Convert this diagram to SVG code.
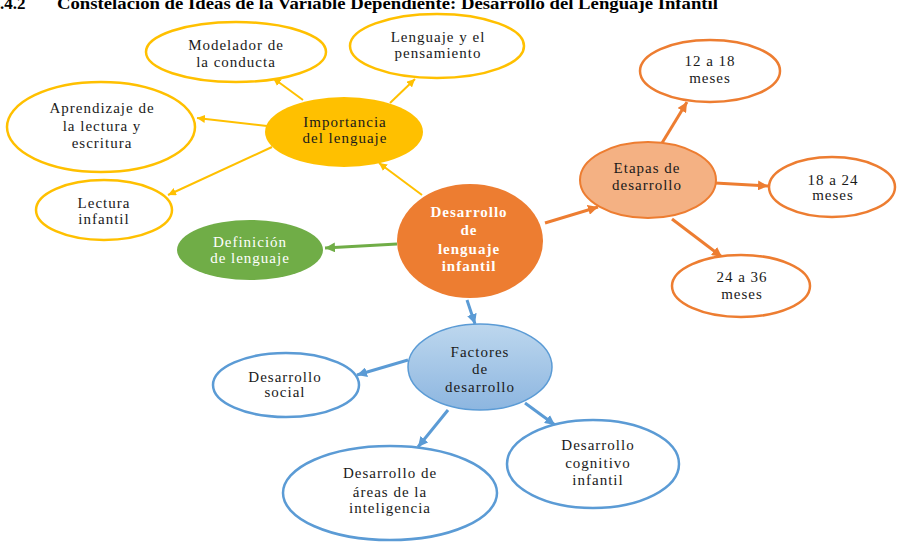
<svg xmlns="http://www.w3.org/2000/svg" width="900" height="548" viewBox="0 0 900 548">
<defs>
<style>
.t{font-family:"Liberation Serif","Times New Roman",serif;font-size:15px;fill:#1a1a1a;text-anchor:middle;letter-spacing:1px}
.w{fill:#fff}
.b{font-weight:bold}
.title{font-family:"Liberation Serif","Times New Roman",serif;font-size:17px;font-weight:bold;fill:#000}
.oy{fill:#fff;stroke:#FFC000;stroke-width:2.5}
.oo{fill:#fff;stroke:#ED7D31;stroke-width:2.5}
.ob{fill:#fff;stroke:#5B9BD5;stroke-width:2.5}
.cy{stroke:#FFC000;stroke-width:2;fill:none;marker-end:url(#ay)}
.co{stroke:#ED7D31;stroke-width:3;fill:none;marker-end:url(#ao)}
.cb{stroke:#5B9BD5;stroke-width:3;fill:none;marker-end:url(#ab)}
.cg{stroke:#70AD47;stroke-width:3;fill:none;marker-end:url(#ag)}
</style>
<marker id="ay" viewBox="0 0 10 10" refX="10" refY="5" markerUnits="userSpaceOnUse" markerWidth="8" markerHeight="8" orient="auto"><path d="M0,0 L10,5 L0,10 z" fill="#FFC000"/></marker>
<marker id="ao" viewBox="0 0 10 10" refX="10" refY="5" markerUnits="userSpaceOnUse" markerWidth="10" markerHeight="10" orient="auto"><path d="M0,0 L10,5 L0,10 z" fill="#ED7D31"/></marker>
<marker id="ab" viewBox="0 0 10 10" refX="10" refY="5" markerUnits="userSpaceOnUse" markerWidth="10" markerHeight="10" orient="auto"><path d="M0,0 L10,5 L0,10 z" fill="#5B9BD5"/></marker>
<marker id="ag" viewBox="0 0 10 10" refX="10" refY="5" markerUnits="userSpaceOnUse" markerWidth="10" markerHeight="10" orient="auto"><path d="M0,0 L10,5 L0,10 z" fill="#70AD47"/></marker>
<linearGradient id="gb" x1="0" y1="0" x2="0" y2="1"><stop offset="0" stop-color="#BDD7EE"/><stop offset="1" stop-color="#8DB6E0"/></linearGradient>
</defs>
<rect width="900" height="548" fill="#fff"/>
<text class="title" x="-8.5" y="9">4.4.2</text>
<text class="title" x="57" y="9" textLength="661" lengthAdjust="spacingAndGlyphs">Constelación de Ideas de la Variable Dependiente: Desarrollo del Lenguaje Infantil</text>

<g id="connectors">
<line class="cy" x1="303" y1="100" x2="273" y2="78"/>
<line class="cy" x1="390" y1="103" x2="415" y2="79"/>
<line class="cy" x1="267" y1="126" x2="197" y2="118"/>
<line class="cy" x1="272" y1="147" x2="168" y2="195"/>
<line class="cy" x1="422" y1="195" x2="379" y2="163"/>
<line class="cg" x1="397" y1="244" x2="325" y2="248"/>
<line class="co" x1="545" y1="223" x2="598" y2="207"/>
<line class="co" x1="662" y1="143" x2="687" y2="102"/>
<line class="co" x1="715" y1="183" x2="768" y2="186"/>
<line class="co" x1="672" y1="219" x2="722" y2="257"/>
<line class="cb" x1="467" y1="300" x2="475" y2="324"/>
<line class="cb" x1="408" y1="360" x2="357" y2="375"/>
<line class="cb" x1="448" y1="410" x2="418" y2="447"/>
<line class="cb" x1="525" y1="403" x2="555" y2="425"/>
</g>

<g id="modelador"><ellipse class="oy" cx="236" cy="52" rx="90" ry="30"/>
<text class="t" x="236" y="50">Modelador de</text><text class="t" x="236" y="67">la conducta</text></g>
<g id="lenguaje-pensamiento"><ellipse class="oy" cx="437" cy="46" rx="87" ry="32"/>
<text class="t" x="438" y="42">Lenguaje y el</text><text class="t" x="438" y="58">pensamiento</text></g>
<g id="aprendizaje"><ellipse class="oy" cx="101" cy="127" rx="94" ry="45"/>
<text class="t" x="102" y="113">Aprendizaje de</text><text class="t" x="102" y="131">la lectura y</text><text class="t" x="102" y="148">escritura</text></g>
<g id="lectura"><ellipse class="oy" cx="104" cy="210" rx="68" ry="30"/>
<text class="t" x="104" y="208">Lectura</text><text class="t" x="104" y="224">infantil</text></g>
<g id="importancia"><ellipse cx="344" cy="132" rx="79" ry="35" fill="#FFC000"/>
<text class="t" x="345" y="127">Importancia</text><text class="t" x="345" y="143">del lenguaje</text></g>
<g id="definicion"><ellipse cx="250" cy="250" rx="73" ry="30" fill="#70AD47"/>
<text class="t w" x="250" y="247">Definición</text><text class="t w" x="250" y="263">de lenguaje</text></g>
<g id="desarrollo"><ellipse cx="470" cy="241" rx="73" ry="57" fill="#ED7D31"/>
<text class="t w b" x="469" y="217">Desarrollo</text><text class="t w b" x="469" y="235">de</text><text class="t w b" x="469" y="254">lenguaje</text><text class="t w b" x="469" y="271">infantil</text></g>
<g id="etapas"><ellipse cx="648" cy="180" rx="68" ry="38" fill="#F4B183" stroke="#ED7D31" stroke-width="2"/>
<text class="t" x="647" y="173">Etapas de</text><text class="t" x="647" y="190">desarrollo</text></g>
<g id="m12-18"><ellipse class="oo" cx="710" cy="71" rx="70" ry="31"/>
<text class="t" x="710" y="66">12 a 18</text><text class="t" x="710" y="83">meses</text></g>
<g id="m18-24"><ellipse class="oo" cx="832" cy="187" rx="63" ry="30"/>
<text class="t" x="833" y="185">18 a 24</text><text class="t" x="833" y="200">meses</text></g>
<g id="m24-36"><ellipse class="oo" cx="741" cy="286" rx="69" ry="31"/>
<text class="t" x="742" y="282">24 a 36</text><text class="t" x="742" y="299">meses</text></g>
<g id="factores"><ellipse cx="480" cy="367" rx="72" ry="43" fill="url(#gb)" stroke="#5B9BD5" stroke-width="1.5"/>
<text class="t" x="480" y="357">Factores</text><text class="t" x="480" y="374">de</text><text class="t" x="480" y="392">desarrollo</text></g>
<g id="social"><ellipse class="ob" cx="286" cy="385" rx="73" ry="32"/>
<text class="t" x="285" y="382">Desarrollo</text><text class="t" x="285" y="397">social</text></g>
<g id="areas"><ellipse class="ob" cx="390" cy="493" rx="107" ry="47"/>
<text class="t" x="390" y="478">Desarrollo de</text><text class="t" x="390" y="497">áreas de la</text><text class="t" x="390" y="513">inteligencia</text></g>
<g id="cognitivo"><ellipse class="ob" cx="593" cy="464" rx="86" ry="44"/>
<text class="t" x="598" y="450">Desarrollo</text><text class="t" x="598" y="468">cognitivo</text><text class="t" x="598" y="485">infantil</text></g>
</svg>
